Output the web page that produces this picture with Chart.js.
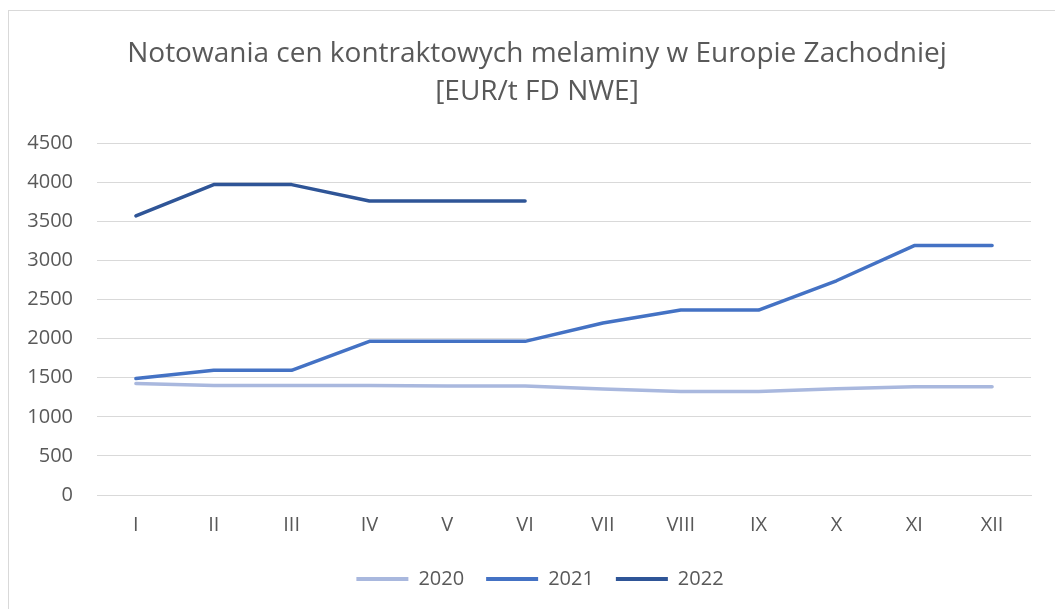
<!DOCTYPE html>
<html>
<head>
<meta charset="utf-8">
<script src="https://cdn.jsdelivr.net/npm/chart.js@4"></script>
<style>
  html, body { margin: 0; padding: 0; background: #fff; }
  #wrap {
    position: absolute; left: 8px; top: 10px; width: 1047px; height: 599px;
    border-left: 1px solid #d9d9d9; border-top: 1px solid #d9d9d9;
    box-sizing: border-box;
  }
  canvas { display: block; }
</style>
</head>
<body>
<div id="wrap"><canvas id="chart"></canvas></div>
<script>
// miesiace
const months = ["I", "II", "III", "IV", "V", "VI", "VII", "VIII", "IX", "X", "XI", "XII"];

// notowania EUR/t
const prices2020 = [1425, 1400, 1400, 1400, 1395, 1395, 1355, 1325, 1325, 1360, 1385, 1385];
const prices2021 = [1490, 1595, 1595, 1965, 1965, 1965, 2200, 2365, 2365, 2740, 3190, 3190];
const prices2022 = [3570, 3970, 3970, 3760, 3760, 3760, null, null, null, null, null, null];

const yTicks = [0, 500, 1000, 1500, 2000, 2500, 3000, 3500, 4000, 4500];

const textColor = "#595959";
const font = "'Open Sans', sans-serif";

const ctx = document.getElementById("chart").getContext("2d");
const wrap = document.getElementById("wrap");
ctx.canvas.width = wrap.clientWidth;
ctx.canvas.height = wrap.clientHeight;

function series(label, data, color) {
    return {
        label: label,
        data: data,
        borderColor: color,
        backgroundColor: color,
        borderWidth: 3.5,
        pointRadius: 0,
        tension: 0,
        borderCapStyle: "round",
        borderJoinStyle: "round",
        spanGaps: false,
    };
}

// tytul i legenda w Excelu sa wysrodkowane na calym obrazku, nie na obszarze wykresu
const shiftBoxes = {
    id: "shiftBoxes",
    afterLayout(chart) {
        if (chart.titleBlock) {
            chart.titleBlock.left += 17;
            chart.titleBlock.right += 17;
        }
        if (chart.legend) {
            chart.legend.left += 20;
            chart.legend.right += 20;
        }
    },
};

new Chart(ctx, {
    type: "line",
    data: {
        labels: months,
        datasets: [
            series("2020", prices2020, "#A9B8DE"),
            series("2021", prices2021, "#4472C4"),
            series("2022", prices2022, "#2F5597"),
        ],
    },
    plugins: [shiftBoxes],
    options: {
        responsive: false,
        animation: false,
        layout: { padding: { left: 0, right: 24, top: 24, bottom: 10 } },
        plugins: {
            title: {
                display: true,
                text: ["Notowania cen kontraktowych melaminy w Europie Zachodniej", "[EUR/t FD NWE]"],
                color: textColor,
                font: { family: font, size: 28, weight: "normal", lineHeight: 1.36 },
                padding: { top: 0, bottom: 32 },
            },
            legend: {
                position: "bottom",
                labels: {
                    color: textColor,
                    font: { family: font, size: 20 },
                    boxWidth: 52,
                    boxHeight: 0,
                    padding: 22,
                    generateLabels: (chart) => chart.data.datasets.map((d, i) => ({
                        text: d.label,
                        strokeStyle: d.borderColor,
                        fillStyle: d.borderColor,
                        lineWidth: 4,
                        lineCap: "round",
                        fontColor: textColor,
                        datasetIndex: i,
                    })),
                },
            },
            tooltip: { enabled: false },
        },
        scales: {
            x: {
                offset: true,
                grid: { display: false, drawTicks: false },
                border: { color: "#d9d9d9" },
                ticks: { color: textColor, font: { family: font, size: 20 }, padding: 18 },
                afterFit: (scale) => { scale.height = 52; },
            },
            y: {
                min: 0,
                max: 4500,
                afterBuildTicks: (scale) => { scale.ticks = yTicks.map(v => ({ value: v })); },
                afterFit: (scale) => { scale.width = 88; },
                grid: { color: "#d9d9d9", lineWidth: 1, drawTicks: false },
                border: { display: false },
                ticks: {
                    color: textColor,
                    font: { family: font, size: 20 },
                    padding: 24,
                    callback: (v) => String(v),
                },
            },
        },
    },
});
</script>
</body>
</html>
